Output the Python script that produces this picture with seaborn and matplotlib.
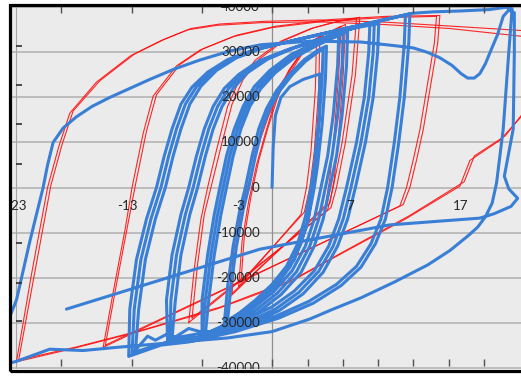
import matplotlib
matplotlib.use("Agg")
import matplotlib.pyplot as plt
import pandas as pd
import seaborn as sns
from matplotlib.patches import Rectangle

# ---------------- data: force vs displacement ----------------
# Blue (test) cycles, in loading order
blue_initial = [(0.0, 0), (0.1, 9000), (0.3, 16000), (0.8, 20000), (1.6, 22400), (2.8, 24000),
                (4.3, 25200), (4.2, 15000), (3.8, 3000), (3.2, -8000), (2.0, -16000),
                (0.2, -22000), (-2.0, -26500), (-4.0, -29500)]
blue_a1 = [(-4.0, -29500), (-3.7, -22000), (-3.2, -13000), (-2.6, -5000), (-2.1, 0), (-1.5, 7000),
           (-0.9, 13000), (-0.2, 17500), (0.7, 21500), (1.8, 25000), (3.0, 28000), (4.1, 30000),
           (4.6, 30800), (4.5, 24000), (4.2, 14000), (3.8, 5000), (3.5, 0), (3.0, -6500),
           (2.3, -12500), (1.3, -17500), (0.0, -21500), (-1.5, -25000), (-3.0, -28000),
           (-4.3, -30300)]
blue_a2 = [(-4.3, -30300), (-4.0, -22000), (-3.5, -13000), (-2.9, -5000), (-2.4, 0), (-1.8, 7000),
           (-1.2, 13000), (-0.5, 17500), (0.4, 21500), (1.6, 25200), (2.9, 28400), (4.2, 30600),
           (4.9, 31400), (4.8, 24000), (4.5, 14000), (4.1, 5000), (3.8, 0), (3.3, -6500),
           (2.6, -12500), (1.6, -17700), (0.3, -21900), (-1.3, -25500), (-2.9, -28600),
           (-4.6, -31000)]
blue_b1 = [(-6.0, -32500), (-5.7, -25000), (-5.2, -15000), (-4.6, -6000), (-4.1, 0), (-3.5, 7000),
           (-2.8, 13000), (-2.0, 18000), (-1.0, 22000), (0.3, 25500), (2.0, 28800), (4.0, 31500),
           (5.3, 33000), (6.0, 33700), (5.9, 27000), (5.5, 16000), (5.0, 7000), (4.4, 0),
           (3.8, -7000), (3.0, -13000), (1.8, -18500), (0.2, -23000), (-1.8, -27000),
           (-3.8, -30000), (-6.0, -32500)]
blue_b2 = [(-6.3, -33000), (-6.0, -25000), (-5.5, -15000), (-4.9, -6000), (-4.4, 0), (-3.8, 7000),
           (-3.1, 13000), (-2.3, 18000), (-1.3, 22200), (0.1, 25800), (1.9, 29200), (4.0, 32000),
           (5.5, 33500), (6.4, 34200), (6.3, 27000), (5.9, 16000), (5.4, 7000), (4.8, 0),
           (4.2, -7000), (3.4, -13000), (2.2, -18700), (0.5, -23400), (-1.6, -27500),
           (-3.8, -30500), (-6.3, -33000)]
blue_b3 = [(-6.3, -33000), (-6.3, -25000), (-5.8, -15000), (-5.2, -6000), (-4.7, 0), (-4.1, 7000),
           (-3.4, 13000), (-2.6, 18000), (-1.6, 22400), (-0.2, 26000), (1.7, 29500), (4.0, 32300),
           (5.8, 33900), (6.8, 34500), (6.7, 27000), (6.3, 16000), (5.8, 7000), (5.2, 0),
           (4.6, -7000), (3.8, -13000), (2.6, -18900), (0.8, -23800), (-1.4, -28000),
           (-3.8, -31000), (-6.5, -33300)]
blue_c1 = [(-9.0, -33500), (-8.7, -25000), (-8.2, -15000), (-7.4, -6000), (-6.7, 0), (-6.0, 7000),
           (-5.3, 13000), (-4.5, 18000), (-3.5, 22000), (-2.2, 25500), (-0.4, 28500), (2.0, 31000),
           (4.8, 33300), (7.2, 35300), (8.8, 36300), (8.7, 30000), (8.3, 20000), (7.6, 10000),
           (6.7, 0), (6.0, -7000), (5.1, -13000), (3.8, -18500), (2.0, -23000), (0.0, -26500),
           (-2.5, -29500), (-5.5, -32000), (-9.0, -33500)]
blue_c2 = [(-9.2, -34000), (-9.1, -25000), (-8.6, -15000), (-7.8, -6000), (-7.1, 0), (-6.4, 7000),
           (-5.7, 13000), (-4.9, 18000), (-3.9, 22000), (-2.6, 25300), (-0.8, 28300), (1.7, 30800),
           (4.6, 33200), (7.3, 35400), (9.2, 36500), (9.1, 30000), (8.7, 20000), (8.0, 10000),
           (7.1, 0), (6.4, -7000), (5.5, -13000), (4.2, -18600), (2.4, -23300), (0.3, -27000),
           (-2.3, -30000), (-5.0, -32200), (-6.5, -32000), (-7.5, -31300), (-9.2, -34000)]
blue_c3 = [(-9.4, -34300), (-9.5, -25000), (-9.0, -15000), (-8.2, -6000), (-7.5, 0), (-6.8, 7000),
           (-6.1, 13000), (-5.3, 18000), (-4.3, 22000), (-3.0, 25100), (-1.2, 28100), (1.4, 30600),
           (4.4, 33000), (7.4, 35400), (9.6, 36400), (9.5, 30000), (9.1, 20000), (8.4, 10000),
           (7.5, 0), (6.8, -7000), (5.9, -13000), (4.6, -18800), (2.8, -23600), (0.6, -27400),
           (-2.1, -30500), (-5.5, -32800), (-9.4, -34300)]
blue_d1 = [(-12.3, -36500), (-12.0, -27000), (-11.4, -16000), (-10.5, -7000), (-9.6, 0),
           (-8.9, 7000), (-8.2, 13000), (-7.4, 18500), (-6.4, 22500), (-5.0, 26000), (-3.2, 28800),
           (-0.8, 31000), (2.5, 33000), (6.0, 35000), (9.2, 36800), (11.2, 37900), (12.0, 38300),
           (11.9, 32000), (11.5, 20000), (11.0, 10000), (10.4, 0), (9.8, -7000), (8.9, -12500),
           (7.6, -17500), (5.8, -21500), (3.3, -25300), (0.3, -28600), (-3.5, -31500),
           (-6.5, -33200), (-8.0, -33800), (-9.5, -32600), (-10.5, -33900), (-11.2, -33000),
           (-12.6, -37000)]
blue_d2 = [(-12.6, -37000), (-12.4, -27000), (-11.8, -16000), (-10.9, -7000), (-10.0, 0),
           (-9.3, 7000), (-8.6, 13000), (-7.8, 18500), (-6.8, 22400), (-5.4, 25800), (-3.6, 28600),
           (-1.2, 30800), (2.2, 32800), (5.8, 34800), (9.2, 36700), (11.4, 38000), (12.4, 38600),
           (12.3, 32000), (11.9, 20000), (11.4, 10000), (10.8, 0), (10.2, -7000), (9.3, -12500),
           (8.0, -17700), (6.2, -21800), (3.7, -25700), (0.6, -29000), (-3.3, -32000),
           (-7.5, -34300), (-10.0, -35000), (-12.9, -37500)]
blue_d3 = [(-12.9, -37500), (-12.8, -27000), (-12.2, -16000), (-11.3, -7000), (-10.4, 0),
           (-9.7, 7000), (-9.0, 13000), (-8.2, 18500), (-7.2, 22300), (-5.8, 25600), (-4.0, 28400),
           (-1.6, 30600), (1.9, 32600), (5.6, 34700), (9.2, 36700), (11.5, 38000), (12.7, 38700)]
blue_final = [(12.7, 38700), (14.5, 39000), (17.0, 39200), (19.5, 39500), (21.0, 40000), (21.6, 39700),
              (21.3, 30000), (20.8, 13000), (20.2, 1000), (19.8, -3500), (19.2, -6500),
              (18.5, -8800), (17.6, -10800), (16.0, -14000), (14.0, -17200), (11.0, -21000),
              (8.0, -24500), (5.5, -27000), (3.4, -29200), (0.0, -32000), (-4.0, -33400),
              (-8.3, -34300), (-14.0, -35500), (-17.0, -36200), (-20.0, -35900), (-23.0, -38600),
              (-24.5, -39500), (-24.3, -33000), (-23.0, -25000), (-21.8, -12000), (-20.6, 0),
              (-20.2, 5000), (-19.7, 10000), (-18.8, 13200), (-17.6, 15700), (-16.2, 18000),
              (-14.6, 20000), (-12.8, 22000), (-11.0, 24000), (-8.8, 26300), (-6.5, 28300),
              (-3.8, 30300), (-1.0, 31700), (3.5, 32500), (8.0, 32300), (11.0, 31500),
              (12.7, 31000), (14.0, 30000), (15.1, 28800), (16.2, 27100), (17.0, 25300),
              (17.6, 24300), (18.2, 24300), (18.7, 25300), (19.2, 27500), (19.7, 30500),
              (20.3, 34000), (20.8, 38000), (21.3, 39400), (21.8, 38800), (21.8, 30000),
              (21.7, 13000), (20.9, 2500), (21.3, -300), (22.1, -2400), (21.5, -4200),
              (20.0, -5800), (18.7, -6800), (10.6, -8300), (-1.1, -13700), (-18.5, -27000)]

# Red (model) cycles
red_s1 = [(-3.0, -22000), (-2.7, -12000), (-2.1, -3000), (-1.4, 5000), (-0.6, 12000), (0.3, 19500),
          (1.5, 26000), (2.8, 30500), (4.0, 33200), (3.9, 22000), (3.5, 8000), (3.1, 0),
          (2.6, -6000), (-3.0, -22000)]
red_s2 = [(-2.8, -21000), (-2.5, -11000), (-1.9, -2000), (-1.2, 6000), (-0.4, 13000), (0.5, 20000),
          (1.7, 26500), (3.0, 31000), (4.3, 33600), (4.2, 22000), (3.8, 8000), (3.4, 0),
          (2.9, -5500), (-2.8, -21000)]
red_m1 = [(-3.8, -24300), (-3.5, -15000), (-3.0, -6000), (-2.4, 0), (-1.6, 8000), (-0.6, 15000),
          (0.8, 23000), (2.5, 29500), (4.3, 33500), (6.2, 35800), (6.0, 25000), (5.6, 12000),
          (5.2, 2000), (4.8, -4000), (-3.8, -24300)]
red_m2 = [(-3.6, -23500), (-3.3, -14000), (-2.8, -5000), (-2.1, 1000), (-1.3, 9000), (-0.3, 16000),
          (1.1, 23500), (2.8, 30000), (4.6, 33800), (6.6, 36200), (6.4, 25000), (6.0, 12000),
          (5.6, 2000), (5.2, -3500), (-3.6, -23500)]
red_l1 = [(-7.5, -30000), (-7.0, -18000), (-6.4, -7000), (-5.8, 0), (-5.0, 8300), (-4.0, 18000),
          (-3.0, 23500), (-1.5, 28300), (0.8, 32500), (3.5, 35300), (5.8, 36800), (7.6, 37500),
          (7.2, 25000), (6.3, 10000), (5.5, 0), (5.0, -5000), (-7.5, -30000)]
red_l2 = [(-7.2, -29000), (-6.7, -17000), (-6.1, -6000), (-5.4, 1000), (-4.6, 9000), (-3.6, 18500),
          (-2.6, 24000), (-1.1, 28600), (1.1, 32700), (3.8, 35500), (6.1, 37000), (7.9, 37800),
          (7.5, 25000), (6.6, 10000), (5.8, 0), (5.3, -4500), (-7.2, -29000)]
red_xl1 = [(-15.2, -35500), (-14.2, -22000), (-13.2, -9000), (-12.6, 0), (-11.6, 12000),
           (-10.7, 20300), (-8.6, 27000), (-6.5, 30500), (-3.5, 33500), (0.0, 35500), (5.0, 37000),
           (10.0, 37700), (14.8, 38000), (14.6, 32000), (13.3, 12800), (12.7, 6100), (12.1, 0),
           (11.5, -4100), (-15.2, -35500)]
red_xl2 = [(-15.0, -35000), (-14.0, -21500), (-13.0, -8500), (-12.3, 500), (-11.3, 12500),
           (-10.4, 20600), (-8.3, 27300), (-6.2, 30800), (-3.2, 33800), (0.3, 35800), (5.3, 37300),
           (10.3, 38000), (15.1, 38200), (14.9, 32000), (13.6, 12800), (13.0, 6100), (12.4, 0),
           (11.8, -3800), (-15.0, -35000)]
red_big1 = [(-23.0, -38700), (-21.7, -20000), (-20.2, 0), (-19.2, 9000), (-18.2, 16500),
            (-15.8, 23400), (-12.7, 29300), (-10.0, 32600), (-7.6, 35000), (-5.0, 36000),
            (-1.0, 36600), (4.0, 36800), (10.0, 36200), (16.0, 35300), (23.5, 33300), (24.0, 20000),
            (20.5, 10500), (17.8, 6000), (16.9, 300), (12.0, -7000), (6.0, -15000), (1.6, -21000),
            (-5.0, -27000), (-12.0, -32000), (-18.0, -35800), (-23.0, -38700)]
red_big2 = [(-22.8, -38300), (-21.4, -19500), (-19.9, 500), (-18.9, 9500), (-17.9, 17000),
            (-15.5, 23700), (-12.4, 29600), (-9.7, 32900), (-7.3, 35300), (-4.7, 36300),
            (-0.7, 36900), (4.3, 37200), (10.3, 36700), (16.3, 35800), (23.5, 34700), (24.0, 21000),
            (21.0, 11500), (18.2, 7000), (17.3, 1300), (12.4, -6200), (6.4, -14300), (2.0, -20300),
            (-4.6, -26500), (-11.6, -31600), (-17.6, -35400), (-22.8, -38300)]

# Axis annotations
y_gridlines = [-40000, -30000, -20000, -10000, 0, 10000, 20000, 30000, 40000]
y_labels = ["-40000", "-30000", "-20000", "-10000", "0", "10000", "20000", "30000", "40000"]
x_label_values = [-23, -13, -3, 7, 17]
edge_x_ticks = [-19.0, -12.6, -6.3, 0.0, 3.2, 6.4, 9.5, 12.7, 15.9, 19.1]
edge_y_ticks = [31400, 22800, 14100, 5200, -12300, -21200, -29700]

# ---------------- figure ----------------
sns.set_theme(style="white")
plt.rcParams['font.family'] = ['Lato', 'DejaVu Sans']

W, H = 521, 376
fig = plt.figure(figsize=(W / 100, H / 100), dpi=100)
fig.patch.set_facecolor('white')
left_px, right_px, top_px, bot_px = 12, 521, 6, 369
ax = fig.add_axes([left_px / W, 1 - bot_px / H, (right_px - left_px) / W, (bot_px - top_px) / H])
ax.set_facecolor('#ebebeb')
ax.set_xlim(-23.4, 22.4)
ax.set_ylim(-40300, 40300)
for s in ax.spines.values():
    s.set_visible(False)
ax.set_xticks([])
ax.set_yticks([])

# gridlines and crossing axes
for yv in y_gridlines:
    ax.axhline(yv, color='#b0b0b0', lw=1.1, zorder=0.5)
ax.axvline(0, color='#8f8f8f', lw=0.9, zorder=0.6)
ax.axvline(-23, color='#a5a5a5', lw=0.8, zorder=0.6)


def to_frame(named):
    rows = []
    for name, pts in named:
        for x, y in pts:
            rows.append((name, x, y))
    return pd.DataFrame(rows, columns=["cycle", "disp", "force"])


red_df = to_frame([("s1", red_s1), ("s2", red_s2), ("m1", red_m1), ("m2", red_m2),
                   ("l1", red_l1), ("l2", red_l2), ("xl1", red_xl1), ("xl2", red_xl2),
                   ("big1", red_big1), ("big2", red_big2)])
sns.lineplot(data=red_df, x="disp", y="force", units="cycle", estimator=None, sort=False,
             color='#ff1010', lw=0.8, alpha=0.9, ax=ax, zorder=2)

blue_path = (blue_initial + blue_a1 + blue_a2 + blue_b1 + blue_b2 + blue_b3 + blue_c1 + blue_c2
             + blue_c3 + blue_d1 + blue_d2 + blue_d3 + blue_final)
blue_df = pd.DataFrame(blue_path, columns=["disp", "force"])
sns.lineplot(data=blue_df, x="disp", y="force", estimator=None, sort=False,
             color='#3a7fd6', lw=2.2, ax=ax, zorder=3, solid_joinstyle='round')
ax.set_xlabel("")
ax.set_ylabel("")

# edge tick marks
ax.plot(edge_x_ticks, [40250] * len(edge_x_ticks), ls='none', marker=3, ms=5,
        color='#505050', mew=1, clip_on=False, zorder=4)
ax.plot(edge_x_ticks, [-39700] * len(edge_x_ticks), ls='none', marker=2, ms=5,
        color='#505050', mew=1, clip_on=False, zorder=4)
ax.plot([-23.0] * len(edge_y_ticks), edge_y_ticks, ls='none', marker=1, ms=4,
        color='#303030', mew=1.2, clip_on=False, zorder=4)

# axis value labels along the crossing axes
for yv, lab in zip(y_gridlines, y_labels):
    ax.text(-1.1, yv, lab, ha='right', va='center', fontsize=9.6, color='#262626',
            zorder=6, clip_on=True)
for xv in x_label_values:
    ax.text(xv, -4100, str(xv), ha='center', va='center', fontsize=9.6, color='#262626',
            zorder=6, clip_on=True)

# outer frame
fig.add_artist(Rectangle((9.5 / W, 1 - 371.3 / H), (540 - 9.5) / W, (371.3 - 4.8) / H,
                         transform=fig.transFigure, fill=False, ec='black', lw=2.3, zorder=10))

fig.savefig("out.png", dpi=100, facecolor='white')
